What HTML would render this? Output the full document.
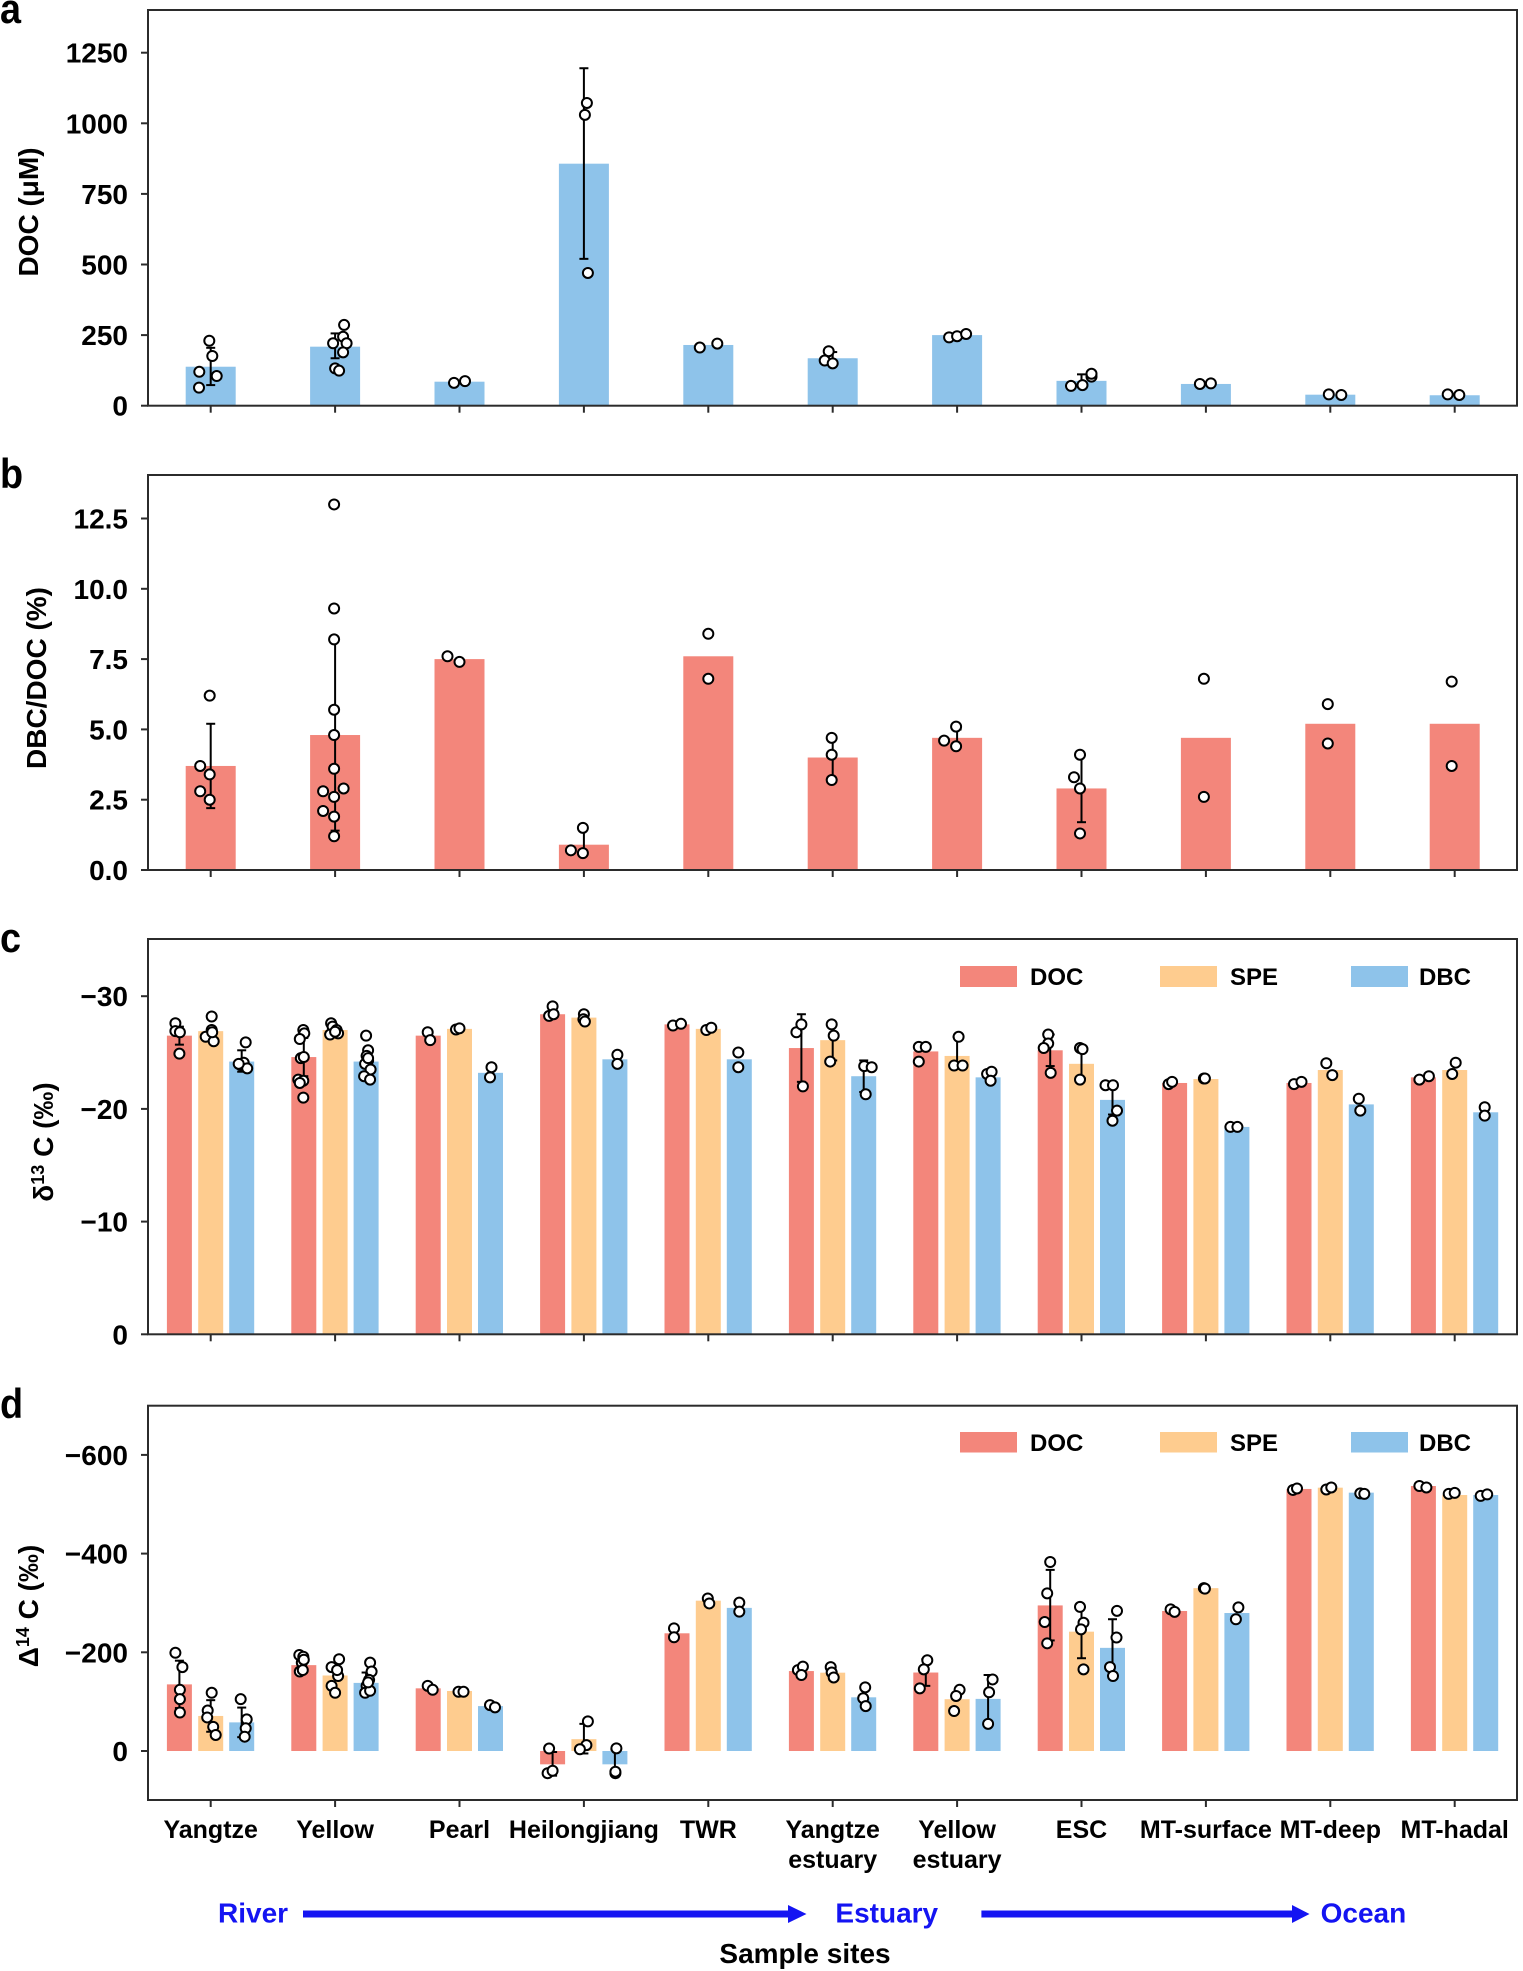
<!DOCTYPE html>
<html><head><meta charset="utf-8">
<style>
html,body{margin:0;padding:0;background:#fff;}
svg{display:block;}
text{font-family:"Liberation Sans",Arial,Helvetica,sans-serif;font-weight:bold;fill:#000;}
</style></head><body>
<svg id="s" width="1523" height="1971" viewBox="0 0 1523 1971" xmlns="http://www.w3.org/2000/svg">
<rect x="0" y="0" width="1523" height="1971" fill="#fff"/>
<g id="gBars"></g>
<g id="gFrames" fill="none" stroke="#2b2b2b" stroke-width="2">
  <rect x="148" y="10" width="1369" height="395.7"/>
  <rect x="148" y="475" width="1369" height="395"/>
  <rect x="148" y="939" width="1369" height="395.3"/>
  <rect x="148" y="1405.7" width="1369" height="394.3"/>
</g>
<g id="gTicks" stroke="#2b2b2b" stroke-width="2"></g>
<g id="gErr" stroke="#000" stroke-width="2" fill="none"></g>
<g id="gPts" fill="#fff" stroke="#000" stroke-width="2"></g>

<!-- panel letters -->
<text transform="translate(0,23) scale(0.9,1)" font-size="42">a</text>
<text transform="translate(0,488) scale(0.9,1)" font-size="42">b</text>
<text transform="translate(0,952) scale(0.9,1)" font-size="42">c</text>
<text transform="translate(0,1418) scale(0.9,1)" font-size="42">d</text>

<!-- y tick labels -->
<g font-size="28" text-anchor="end">
<text x="128" y="415.7" text-anchor="end" font-size="28">0</text>
<text x="128" y="345.1" text-anchor="end" font-size="28">250</text>
<text x="128" y="274.5" text-anchor="end" font-size="28">500</text>
<text x="128" y="203.9" text-anchor="end" font-size="28">750</text>
<text x="128" y="133.3" text-anchor="end" font-size="28">1000</text>
<text x="128" y="62.7" text-anchor="end" font-size="28">1250</text>

<text x="128" y="880" text-anchor="end" font-size="28">0.0</text>
<text x="128" y="809.7" text-anchor="end" font-size="28">2.5</text>
<text x="128" y="739.4" text-anchor="end" font-size="28">5.0</text>
<text x="128" y="669.1" text-anchor="end" font-size="28">7.5</text>
<text x="128" y="598.8" text-anchor="end" font-size="28">10.0</text>
<text x="128" y="528.5" text-anchor="end" font-size="28">12.5</text>

<text x="128" y="1344.3" text-anchor="end" font-size="28">0</text>
<text x="128" y="1231.6" text-anchor="end" font-size="28">−10</text>
<text x="128" y="1118.9" text-anchor="end" font-size="28">−20</text>
<text x="128" y="1006.2" text-anchor="end" font-size="28">−30</text>

<text x="128" y="1761" text-anchor="end" font-size="28">0</text>
<text x="128" y="1662.3" text-anchor="end" font-size="28">−200</text>
<text x="128" y="1563.6" text-anchor="end" font-size="28">−400</text>
<text x="128" y="1464.9" text-anchor="end" font-size="28">−600</text>
</g>

<!-- y titles -->
<text transform="translate(38,212) rotate(-90)" text-anchor="middle" font-size="28">DOC (μM)</text>
<text transform="translate(46,678) rotate(-90)" text-anchor="middle" font-size="28">DBC/DOC (%)</text>
<text transform="translate(53,1142) rotate(-90)" text-anchor="middle" font-size="28">δ<tspan font-size="18" dy="-9">13</tspan><tspan dy="9"> C (‰)</tspan></text>
<text transform="translate(38,1606) rotate(-90)" text-anchor="middle" font-size="28">Δ<tspan font-size="18" dy="-9">14</tspan><tspan dy="9"> C (‰)</tspan></text>

<!-- legends -->
<rect x="960" y="966" width="57" height="21" fill="#F3867B"/>
<text x="1030" y="985" font-size="24">DOC</text>
<rect x="1160" y="966" width="57" height="21" fill="#FECC8F"/>
<text x="1230" y="985" font-size="24">SPE</text>
<rect x="1351" y="966" width="57" height="21" fill="#8EC3EA"/>
<text x="1419" y="985" font-size="24">DBC</text>

<rect x="960" y="1432" width="57" height="20.5" fill="#F3867B"/>
<text x="1030" y="1451" font-size="24">DOC</text>
<rect x="1160" y="1432" width="57" height="20.5" fill="#FECC8F"/>
<text x="1230" y="1451" font-size="24">SPE</text>
<rect x="1351" y="1432" width="57" height="20.5" fill="#8EC3EA"/>
<text x="1419" y="1451" font-size="24">DBC</text>

<!-- x labels -->
<g font-size="25" text-anchor="middle">
<text x="210.7" y="1838" text-anchor="middle" font-size="25">Yangtze</text>
<text x="335.1" y="1838" text-anchor="middle" font-size="25">Yellow</text>
<text x="459.5" y="1838" text-anchor="middle" font-size="25">Pearl</text>
<text x="583.9" y="1838" text-anchor="middle" font-size="25">Heilongjiang</text>
<text x="708.3" y="1838" text-anchor="middle" font-size="25">TWR</text>
<text x="832.7" y="1838" text-anchor="middle" font-size="25">Yangtze</text>
<text x="832.7" y="1868" text-anchor="middle" font-size="25">estuary</text>
<text x="957.1" y="1838" text-anchor="middle" font-size="25">Yellow</text>
<text x="957.1" y="1868" text-anchor="middle" font-size="25">estuary</text>
<text x="1081.5" y="1838" text-anchor="middle" font-size="25">ESC</text>
<text x="1205.9" y="1838" text-anchor="middle" font-size="25">MT-surface</text>
<text x="1330.3" y="1838" text-anchor="middle" font-size="25">MT-deep</text>
<text x="1454.7" y="1838" text-anchor="middle" font-size="25">MT-hadal</text>
</g>

<!-- River / Estuary / Ocean -->
<text x="218" y="1922.7" font-size="28" style="fill:#1414F2">River</text>
<rect x="303" y="1910.5" width="487" height="7" fill="#1414F2"/>
<polygon points="788,1905 806.5,1914 788,1923" fill="#1414F2"/>
<text x="835.4" y="1922.7" font-size="28" style="fill:#1414F2">Estuary</text>
<rect x="981.4" y="1910.5" width="313" height="7" fill="#1414F2"/>
<polygon points="1292,1905 1309.5,1914 1292,1923" fill="#1414F2"/>
<text x="1320.6" y="1922.7" font-size="28" style="fill:#1414F2">Ocean</text>

<text x="805" y="1963" text-anchor="middle" font-size="28">Sample sites</text>
</svg>

<script>
(function(){
var NS="http://www.w3.org/2000/svg";
function el(g,tag,a){var e=document.createElementNS(NS,tag);for(var k in a)e.setAttribute(k,a[k]);document.getElementById(g).appendChild(e);return e;}
function cx(i){return 210.7+124.4*i;}
var RED="#F3867B",ORG="#FECC8F",BLU="#8EC3EA";
var R=5;

function drawBar(yf,x,w,v,col){
  var y0=yf(0),y1=yf(v);
  var top=Math.min(y0,y1),h=Math.abs(y0-y1);
  el("gBars","rect",{x:x-w/2,y:top,width:w,height:h,fill:col});
}
function drawErr(yf,x,err){
  if(!err)return;
  var a=yf(err[0]),b=yf(err[1]);
  el("gErr","line",{x1:x,y1:a,x2:x,y2:b});
  el("gErr","line",{x1:x-4.5,y1:a,x2:x+4.5,y2:a});
  el("gErr","line",{x1:x-4.5,y1:b,x2:x+4.5,y2:b});
}
function drawPts(yf,x,pts){
  for(var i=0;i<pts.length;i++){
    el("gPts","circle",{cx:x+pts[i][0],cy:yf(pts[i][1]),r:R});
  }
}

var ya=function(v){return 405.7-v*0.2824;};
var yb=function(v){return 870-v*28.12;};
var yc=function(v){return 1334.3-v*11.27;};
var yd=function(v){return 1751-v*0.4935;};

var A=[
[138,[73,205],[[-1.4,230],[1.6,176],[-11.4,120],[6,105],[-11.7,64]]],
[209,[168,256],[[9,286],[8,244],[-2,221],[11.5,221],[8,189],[0,132],[4,124]]],
[85,null,[[-5.5,81],[5.5,87]]],
[857,[520,1195],[[3,1072],[1,1030],[4,470]]],
[215,null,[[-8.5,206],[9,220]]],
[168,[150,190],[[-4,193],[-8,160],[0,150]]],
[250,null,[[-8,242],[0,246],[9,254]]],
[88,[66,111],[[-10.5,70],[1,73],[10,103],[10,113]]],
[77,null,[[-6,77],[5,79]]],
[39,null,[[-1.5,40],[11,38]]],
[37,null,[[-7,40],[4.6,38]]]
];
var B=[
[3.7,[2.2,5.2],[[-1,6.2],[-10.5,3.7],[-1,3.4],[-10.5,2.8],[-1,2.5]]],
[4.8,[1.4,8.2],[[-1,13],[-1,9.3],[-1,8.2],[-1,5.7],[-1,4.8],[-1,3.6],[-12,2.8],[8.5,2.9],[-1,2.6],[-12,2.1],[-1,1.9],[-1,1.2]]],
[7.5,null,[[-12,7.6],[0,7.4]]],
[0.9,[0.55,1.5],[[-1,1.5],[-13,0.7],[-1,0.6]]],
[7.6,null,[[0,8.4],[0,6.8]]],
[4.0,[3.2,4.7],[[-1,4.7],[-1,4.1],[-1,3.2]]],
[4.7,[4.4,5.0],[[-13,4.6],[-1,5.1],[-1,4.4]]],
[2.9,[1.7,4.1],[[-1.5,4.1],[-7.5,3.3],[-1.5,2.9],[-1.5,1.3]]],
[4.7,null,[[-2,6.8],[-2,2.6]]],
[5.2,null,[[-2.5,5.9],[-2.5,4.5]]],
[5.2,null,[[-3,6.7],[-3,3.7]]]
];
var C=[
 [[26.5,[25.7,27.3],[[-4,27.6],[-4,26.9],[0.5,26.8],[0,24.9]]],
  [26.9,null,[[1,28.2],[1,27],[-5,26.4],[3,26],[1.5,26.8]]],
  [24.2,[23.3,25.2],[[4,25.9],[-1,23.9],[2,24.1],[5.5,23.6],[-3,24.0]]]],
 [[24.6,[22.9,26.3],[[-0.5,27],[0.5,26.7],[-4,26.2],[-3,24.5],[0,24.6],[-5.5,22.6],[-0.5,22.5],[-4,22.3],[-0.5,21]]],
  [27.0,null,[[-4,27.6],[-2.5,27.3],[1.5,27],[-5,26.6],[3,26.7],[0,26.85]]],
  [24.2,null,[[0,26.5],[2,25.2],[0.5,24.7],[2,24.3],[-1,24],[4.5,23.5],[-2,22.9],[4,22.6],[2,24.5]]]],
 [[26.5,null,[[-0.5,26.8],[2,26.1]]],
  [27.1,null,[[-3.5,27.05],[0,27.15]]],
  [23.2,null,[[1,23.7],[-0.5,22.8]]]],
 [[28.4,null,[[0,29.1],[-3.5,28.25],[1,28.4]]],
  [28.1,null,[[0,28.4],[-0.5,27.95],[1,27.75]]],
  [24.4,null,[[2.5,24.8],[2.5,24]]]],
 [[27.5,null,[[-4,27.4],[4,27.55]]],
  [27.1,null,[[-2,27],[3,27.2]]],
  [24.4,null,[[-1,25],[-1,23.7]]]],
 [[25.4,[22.4,28.4],[[-5,26.8],[0,27.5],[1.5,22]]],
  [26.1,[24.3,27.6],[[-1,27.5],[1,26.5],[-2.5,24.2]]],
  [22.9,[21.5,24.3],[[0.5,23.8],[8,23.7],[2,21.3]]]],
 [[25.1,null,[[-7,25.5],[0,25.5],[-7,24.2]]],
  [24.7,[23.9,26.4],[[1.5,26.4],[-3,23.85],[5.5,23.85]]],
  [22.8,null,[[-1,23.1],[3.5,23.3],[2.5,22.5]]]],
 [[25.2,[23.8,26.6],[[-2,26.6],[-2,25.8],[-6.5,25.4],[0.5,23.2]]],
  [24.0,[22.7,25.3],[[-1.5,25.4],[1,25.3],[-1.5,22.6]]],
  [20.8,[19.5,22.0],[[-7,22.1],[0.5,22.1],[4.5,19.85],[0,18.95]]]],
 [[22.3,null,[[-6,22.2],[-2.5,22.4]]],
  [22.65,null,[[-2,22.7],[-1,22.7]]],
  [18.4,null,[[-6.5,18.4],[0.5,18.4]]]],
 [[22.3,null,[[-5,22.2],[2.5,22.4]]],
  [23.45,null,[[-4,24.05],[2,23]]],
  [20.4,null,[[-2.5,20.9],[-1,19.85]]]],
 [[22.8,null,[[-4,22.6],[5.5,22.9]]],
  [23.45,null,[[1,24.1],[-2.5,23.1]]],
  [19.7,null,[[-1,20.15],[-1,19.4]]]]
];
var D=[
 [[135,[87,183],[[-4,199],[3,170],[0.5,124],[0.5,105],[0.5,78]]],
  [71,[39,103],[[1,118],[-3,82],[-3.5,68],[2.5,49],[5,32.5]]],
  [58,[28,88],[[-1,105],[5,64],[4,46],[3,29]]]],
 [[174,null,[[-4.5,194.5],[-0.5,191],[-2,179],[-4,161],[-1,164],[0,185]]],
  [153,null,[[4,186],[-3.5,170],[3,152],[-3.5,132],[0,118],[2,164]]],
  [138,[118,159],[[4,179],[5.5,161],[3,144],[0.5,132],[-1,118],[4,122],[2,139]]]],
 [[127,null,[[-0.5,132],[4.5,124]]],
  [121.6,null,[[-1,120],[4,120]]],
  [91,null,[[-0.5,93],[4.5,88.5]]]],
 [[-27,[-50,-2],[[-3.5,5],[-5,-45],[0,-40]]],
  [24,[-5,55],[[4,60],[2.5,12],[-4,3.5]]],
  [-27,[-50,3],[[1.5,5.4],[0.5,-45],[0.5,-42]]]],
 [[238.5,null,[[-3,248.6],[-3,230.4]]],
  [304.6,null,[[-0.5,309],[1,299]]],
  [290,null,[[0,300.6],[0,282.4]]]],
 [[162,null,[[-3.5,164],[1.5,171],[0,154]]],
  [158.7,null,[[-2,170],[-1,159],[1,149]]],
  [108.8,null,[[1.5,129],[-0.5,107],[2,91]]]],
 [[159,[132,186],[[1.5,184],[-2,165.5],[-6,127]]],
  [105,null,[[2.5,124],[-1,111.5],[-3,81]]],
  [105.6,[57,154],[[4.5,145],[1,119],[0,55]]]],
 [[295,[224,367],[[0,383],[-3,319.5],[-5.5,261.4],[-3,218.2]]],
  [241.8,[188,292],[[-1.5,292],[2,260],[-0.5,246.5],[2,165.5]]],
  [209,[152,267],[[4.5,284],[4,230],[-2.5,170],[0.5,152]]]],
 [[283.7,null,[[-4,287],[0,282]]],
  [330,null,[[-2,330],[-1,329]]],
  [279.6,null,[[1.5,291],[-1,267]]]],
 [[531,null,[[-6,529],[-2,532]]],
  [533.6,null,[[-4,530],[1,534]]],
  [523.5,null,[[-1,522],[3,521]]]],
 [[537,null,[[-4,537],[3,534]]],
  [518.7,null,[[-6,521],[0,523]]],
  [518.7,null,[[-5,517],[1.5,520]]]]
];

var i,j,d,x;
for(i=0;i<11;i++){
  x=cx(i);
  d=A[i]; drawBar(ya,x,50,d[0],BLU); drawErr(ya,x,d[1]); drawPts(ya,x,d[2]);
  d=B[i]; drawBar(yb,x,50,d[0],RED); drawErr(yb,x,d[1]); drawPts(yb,x,d[2]);
}
var offs=[-31.3,0,31],cols=[RED,ORG,BLU];
for(i=0;i<11;i++){
  for(j=0;j<3;j++){
    x=cx(i)+offs[j];
    d=C[i][j]; drawBar(yc,x,25,d[0],cols[j]); drawErr(yc,x,d[1]); drawPts(yc,x,d[2]);
    d=D[i][j]; drawBar(yd,x,25,d[0],cols[j]); drawErr(yd,x,d[1]); drawPts(yd,x,d[2]);
  }
}
// ticks
var bottoms=[405.7,870,1334.3,1800];
for(var p=0;p<4;p++){
  for(i=0;i<11;i++){el("gTicks","line",{x1:cx(i),y1:bottoms[p],x2:cx(i),y2:bottoms[p]+7});}
}
var yt=[405.7,335.1,264.5,193.9,123.3,52.7, 870,799.7,729.4,659.1,588.8,518.5, 1334.3,1221.6,1108.9,996.2, 1751,1652.3,1553.6,1454.9];
for(i=0;i<yt.length;i++){el("gTicks","line",{x1:141,y1:yt[i],x2:148,y2:yt[i]});}
})();
</script>
</body></html>
